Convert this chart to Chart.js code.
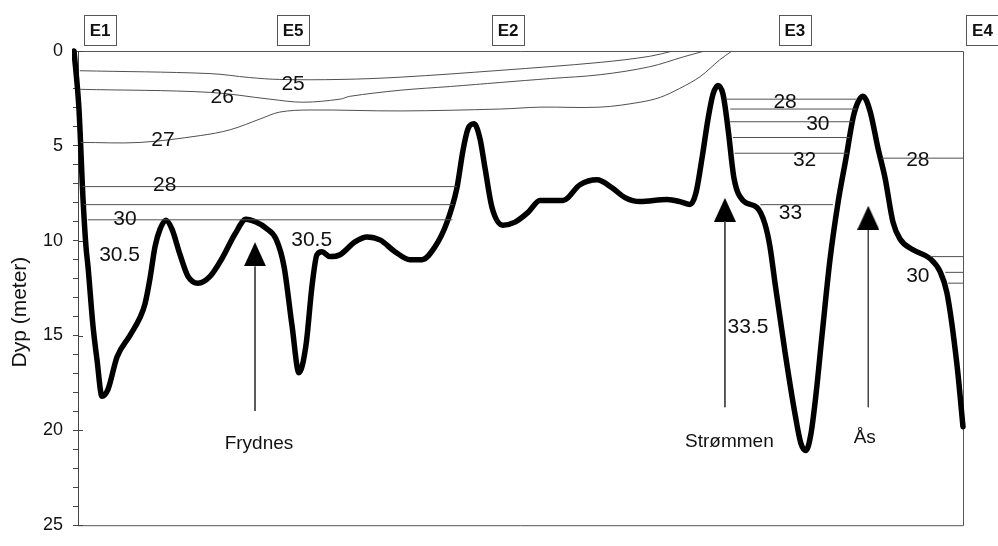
<!DOCTYPE html>
<html><head><meta charset="utf-8">
<script src="https://cdn.jsdelivr.net/npm/chart.js@4/dist/chart.umd.min.js"></script>
<style>html,body{margin:0;padding:0;background:#fff;}</style>
</head><body>
<canvas id="c" width="998" height="546" style="width:998px;height:546px;display:block"></canvas>
<script>
// ---- DATA ----
// Bottom profile (distance along transect 0..100, depth in m)
const bathyX = [-0.45,0.11,0.56,0.9,1.13,1.69,2.15,2.71,3.39,4.41,5.88,7.0,7.57,8.14,8.7,9.27,9.94,10.62,11.53,12.43,13.56,14.92,16.27,17.74,18.98,20.11,21.24,22.37,23.28,24.18,24.97,25.76,26.44,27.0,27.57,28.47,29.6,31.3,32.66,34.12,35.82,37.51,38.87,40.34,41.7,42.82,43.5,44.07,44.75,45.42,45.99,46.78,48.02,49.38,50.85,52.2,53.67,54.8,56.72,58.64,60.34,61.81,63.5,66.55,68.02,69.15,69.83,70.51,71.19,71.75,72.32,72.88,73.45,74.12,75.14,76.72,77.63,78.19,78.76,79.89,81.02,81.69,82.26,82.82,83.39,84.07,84.97,85.88,86.78,87.68,88.7,89.49,90.4,91.19,92.09,92.88,94.35,96.27,97.4,98.19,99.32,100];
const bathyDepth = [0,3.06,7.73,10.3,11.36,14.47,16.29,18.2,17.84,16.13,14.99,14.06,13.33,11.98,10.32,9.39,8.92,9.39,10.74,11.88,12.24,11.88,10.94,9.65,8.87,9.02,9.34,9.91,11.36,14.47,16.96,15.51,12.4,10.74,10.58,10.84,10.74,10.06,9.8,9.96,10.58,11.0,11.0,10.32,9.02,7.21,5.24,4.1,3.84,4.62,6.17,8.25,9.18,9.02,8.51,7.88,7.88,7.88,7.05,6.79,7.21,7.73,7.94,7.83,7.94,8.09,7.47,5.65,3.58,2.28,1.82,2.28,4.1,6.69,7.88,8.25,9.13,10.32,12.24,15.87,19.14,20.7,21.06,20.18,18.1,14.99,11.0,7.99,5.65,3.32,2.39,3.16,5.13,6.69,9.02,9.91,10.48,10.94,11.62,12.76,16.55,19.81];

// Curved salinity isolines
const iso25X = [0.2,14.9,19.4,22.8,29.6,36.4,47.7,59.0,64.6,67.2];
const iso25D = [1.04,1.19,1.4,1.5,1.5,1.38,1.02,0.6,0.28,0];
const iso26X = [0.2,14.9,21.7,25.4,29.6,30.7,36.4,42.1,47.7,53.4,59.0,64.6,68.4,70.8];
const iso26D = [2.02,2.18,2.54,2.7,2.54,2.39,2.07,1.87,1.66,1.45,1.25,0.83,0.31,0];
const iso27X = [0.3,7.0,13.8,17.2,20.6,22.8,26.2,36.4,47.7,52.2,59.0,63.5,65.8,68.0,70.3,72.5,73.9];
const iso27D = [4.82,4.82,4.46,4.15,3.58,3.22,3.11,3.16,3.06,2.96,2.96,2.7,2.44,1.97,1.35,0.47,0];

// Horizontal isoline segments
const segDepth = [7.15,8.1,8.9,2.54,3.06,3.73,4.56,5.39,5.65,8.1,10.84,11.67,12.24];
const segStart = [0.5,0.65,1.1,73.3,73.7,73.6,74.0,74.2,90.8,77.1,96.3,98.0,98.3];
const segEnd   = [42.8,42.4,42.3,88.0,88.0,87.5,87.2,87.0,100,85.3,100,100,100];

// Isoline labels
const isoLabels = ['25','26','27','28','30','30.5','30.5','28','30','32','28','33','33.5','30'];
const isoLabelX = [24.3,16.3,9.6,9.8,5.3,4.7,26.4,79.9,83.6,82.1,94.9,80.5,75.7,94.9];
const isoLabelD = [1.76,2.44,4.72,7.1,8.87,10.74,9.96,2.7,3.84,5.76,5.76,8.56,14.57,11.88];

// Stations
const stations = ['E1','E5','E2','E3','E4'];
const stationX = [2.5,24.3,48.6,81.0,102.2];

// Places with arrows
const places = ['Frydnes','Strømmen','Ås'];
const placeX = [20.0,73.1,89.3];
const placeTipD = [10.06,7.78,8.14];
const placeBaseD = [11.36,8.97,9.44];
const placeLineEndD = [18.98,18.78,18.78];
const placeLabelX = [20.45,73.6,88.9];
const placeLabelD = [20.7,20.6,20.4];

// Y axis
const yMin = 0, yMax = 25, yMajor = 5;
const yTitle = 'Dyp (meter)';

// ---- BUILD ----
const FONT = '"Liberation Sans", Arial, sans-serif';
const zip = (xs, ys) => xs.map((x, i) => ({x, y: ys[i]}));
const lineColor = '#505050';

const datasets = [];
datasets.push({label:'iso25', data: zip(iso25X, iso25D), borderColor: lineColor, borderWidth: 1, tension: 0.35, pointRadius: 0, showLine: true});
datasets.push({label:'iso26', data: zip(iso26X, iso26D), borderColor: lineColor, borderWidth: 1, tension: 0.35, pointRadius: 0, showLine: true});
datasets.push({label:'iso27', data: zip(iso27X, iso27D), borderColor: lineColor, borderWidth: 1, tension: 0.35, pointRadius: 0, showLine: true});
segDepth.forEach((d, i) => {
  datasets.push({label:'seg'+i, data: [{x: segStart[i], y: d}, {x: segEnd[i], y: d}], borderColor: lineColor, borderWidth: 1, tension: 0, pointRadius: 0, showLine: true});
});
// arrow shafts
places.forEach((p, i) => {
  datasets.push({label:'arrow'+i, data: [{x: placeX[i], y: placeBaseD[i]}, {x: placeX[i], y: placeLineEndD[i]}], borderColor: '#444', borderWidth: 1, pointRadius: 0, showLine: true});
});
// arrow heads (triangle image as point style)
function triCanvas(w, h) {
  const c = document.createElement('canvas');
  c.width = w; c.height = h;
  const g = c.getContext('2d');
  g.fillStyle = '#000';
  g.beginPath(); g.moveTo(w/2, 0); g.lineTo(w, h); g.lineTo(0, h); g.closePath(); g.fill();
  return c;
}
const tri = triCanvas(22, 24);
datasets.push({label:'heads', data: places.map((p, i) => ({x: placeX[i], y: (placeTipD[i] + placeBaseD[i]) / 2})), pointStyle: tri, pointRadius: 12, showLine: false, borderWidth: 0});
// bottom profile (on top)
datasets.push({label:'bottom', data: zip(bathyX, bathyDepth), borderColor: '#000', borderWidth: 5.5, cubicInterpolationMode: 'monotone', pointRadius: 0, showLine: true, clip: 6, borderCapStyle: 'round', borderJoinStyle: 'round'});

const decor = {
  id: 'decor',
  beforeDatasetsDraw(chart) {
    const {ctx, chartArea: a} = chart;
    ctx.save();
    ctx.strokeStyle = '#555';
    ctx.lineWidth = 1;
    ctx.beginPath();
    ctx.moveTo(a.left, a.top + 0.5); ctx.lineTo(a.right + 0.5, a.top + 0.5);
    ctx.lineTo(a.right + 0.5, a.bottom + 0.5); ctx.lineTo(a.left, a.bottom + 0.5);
    ctx.stroke();
    // inner half of major ticks
    const ys = chart.scales.y;
    ctx.strokeStyle = '#444';
    for (let v = yMin; v <= yMax; v += yMajor) {
      const py = Math.round(ys.getPixelForValue(v)) + 0.5;
      ctx.beginPath(); ctx.moveTo(a.left, py); ctx.lineTo(a.left + 5, py); ctx.stroke();
    }
    ctx.restore();
  },
  afterDatasetsDraw(chart) {
    const {ctx, chartArea: a, scales: {x, y}} = chart;
    ctx.save();
    ctx.fillStyle = '#111';
    ctx.textAlign = 'center';
    ctx.textBaseline = 'middle';
    ctx.font = '21px ' + FONT;
    isoLabels.forEach((t, i) => ctx.fillText(t, x.getPixelForValue(isoLabelX[i]), y.getPixelForValue(isoLabelD[i])));
    ctx.font = '19px ' + FONT;
    places.forEach((t, i) => ctx.fillText(t, x.getPixelForValue(placeLabelX[i]), y.getPixelForValue(placeLabelD[i])));
    // station boxes
    ctx.font = 'bold 17px ' + FONT;
    ctx.strokeStyle = '#555';
    ctx.lineWidth = 1;
    stations.forEach((t, i) => {
      const cx = x.getPixelForValue(stationX[i]);
      const cy = a.top - 21;
      ctx.clearRect(cx - 16, cy - 15, 32, 30);
      ctx.fillStyle = '#fff';
      ctx.fillRect(cx - 16, cy - 15, 32, 30);
      ctx.strokeRect(Math.round(cx - 16) + 0.5, Math.round(cy - 15) + 0.5, 32, 30);
      ctx.fillStyle = '#111';
      ctx.fillText(t, cx, cy + 1);
    });
    // y title
    ctx.font = '21px ' + FONT;
    ctx.translate(20, (a.top + a.bottom) / 2 + 24);
    ctx.rotate(-Math.PI / 2);
    ctx.fillText(yTitle, 0, 0);
    ctx.restore();
  }
};

new Chart(document.getElementById('c'), {
  type: 'scatter',
  data: { datasets },
  options: {
    responsive: false,
    animation: false,
    devicePixelRatio: 1,
    layout: { padding: { left: 0, top: 51, right: 35, bottom: 13 } },
    plugins: { legend: { display: false }, tooltip: { enabled: false } },
    scales: {
      x: { type: 'linear', min: 0, max: 100, display: false },
      y: {
        type: 'linear', min: yMin, max: yMax, reverse: true,
        afterFit(scale) { scale.width = 78; },
        border: { display: true, color: '#444', width: 1 },
        grid: { drawOnChartArea: false, drawTicks: true, tickLength: 5, color: '#444' },
        ticks: {
          stepSize: 1, autoSkip: false, padding: 10, color: '#111',
          font: { family: FONT, size: 18 },
          callback: (v) => (v % yMajor === 0 ? String(v) : '')
        }
      }
    }
  },
  plugins: [decor]
});
</script>
</body></html>
